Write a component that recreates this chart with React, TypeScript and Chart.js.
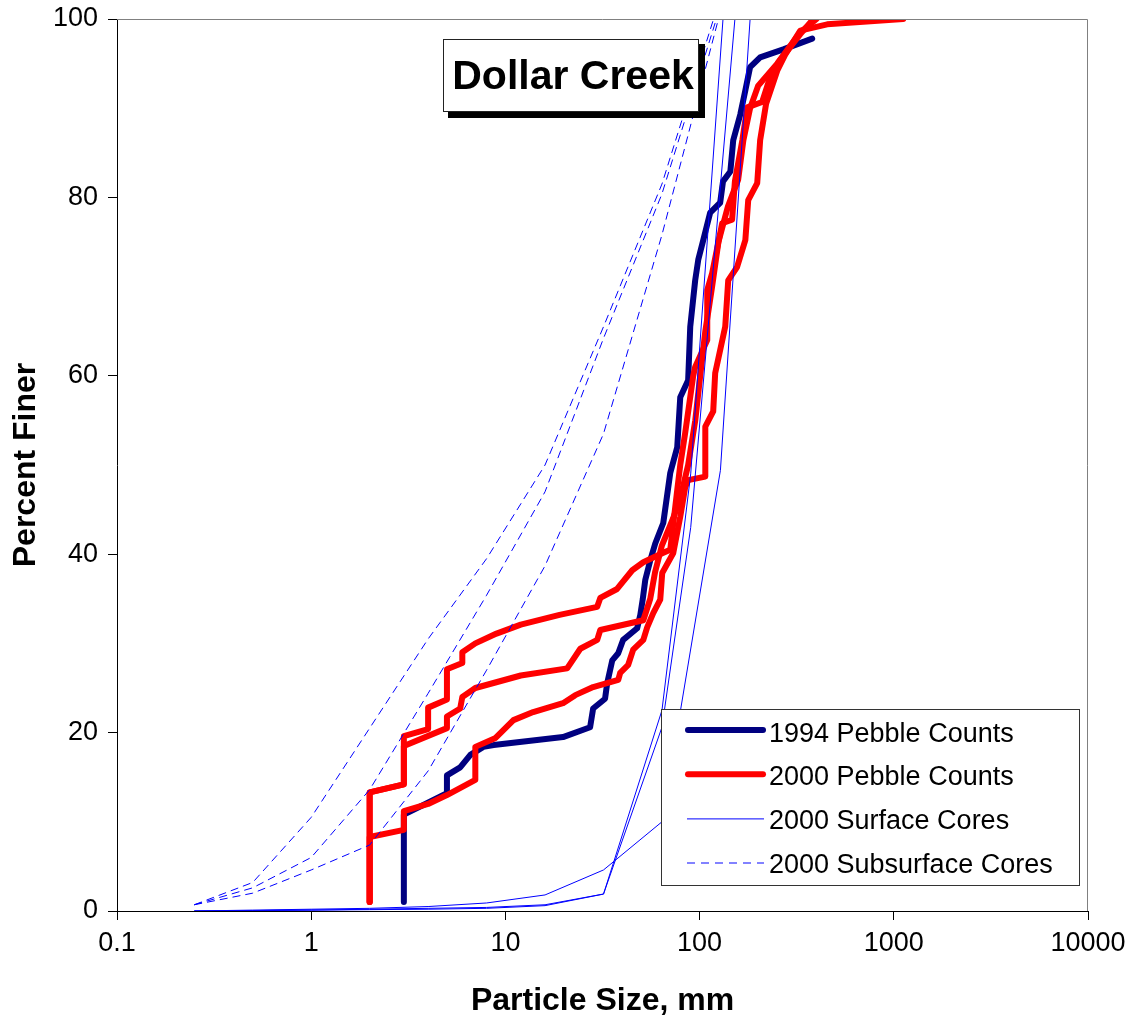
import React, { useEffect, useRef } from 'react';
import { Chart, registerables } from 'chart.js';

Chart.register(...registerables);

// ---------- DATA ----------
const chartTitle = 'Dollar Creek';
const xAxisTitle = 'Particle Size, mm';
const yAxisTitle = 'Percent Finer';
const xTickValues = [0.1, 1, 10, 100, 1000, 10000];
const xTickLabels = ['0.1', '1', '10', '100', '1000', '10000'];
const yTickValues = [0, 20, 40, 60, 80, 100];
const legendLabels = ['1994 Pebble Counts', '2000 Pebble Counts', '2000 Surface Cores', '2000 Subsurface Cores'];

// [size mm, percent finer]
const pebble1994: number[][] = [
  [3, 1], [3, 10.8], [5, 13.2], [5, 15.2], [5.85, 16.1], [6.6, 17.5], [7.7, 18.4], [8.7, 18.6],
  [19.8, 19.5], [27.3, 20.6], [28.3, 22.7], [32.6, 23.8], [33.4, 25.5], [35.5, 28.1], [38.1, 28.9],
  [40.4, 30.4], [47.7, 31.7], [49.5, 33.2], [51, 35], [52.5, 37.1], [55.7, 39.3], [59.1, 41.2],
  [65, 43.5], [70.6, 49.1], [76.7, 52], [79.5, 57.6], [87.3, 59.5], [89.5, 65.5], [94.9, 70.7],
  [98.4, 73], [104.4, 75.2], [113.4, 78.3], [127.6, 79.4], [132, 81.8], [144, 82.9], [149, 86.4],
  [162, 89.3], [172, 92], [182, 94.6], [205, 95.7], [270, 96.6], [380, 97.8],
];

const pebble2000a: number[][] = [
  [2, 1], [2, 13.3], [3, 14.2], [3, 19.6], [4, 20.4], [4, 22.8], [5, 23.7], [5, 27.1], [6, 27.8],
  [6, 29], [7, 30], [9, 31.1], [12, 32.1], [19, 33.2], [29.7, 34.1], [30.8, 35.1], [37.6, 36.1],
  [45, 38.2], [51.3, 39.1], [64.2, 40.1], [70.6, 40.5], [76.7, 47.2], [79.5, 50], [84.3, 53.6],
  [92.7, 60], [94.9, 61], [109.5, 64], [109.5, 69.6], [116, 71.5], [130.7, 77.1], [147, 77.5],
  [152, 81.8], [166, 86.4], [176, 90.1], [210, 90.7], [231, 93.5], [260, 95.4], [330, 98.3], [385, 100],
];

const pebble2000b: number[][] = [
  [2, 1], [2, 13.3], [3, 14.2], [3, 18.5], [5, 20.5], [5, 21.8], [5.85, 22.7], [6, 24], [7, 25],
  [12, 26.4], [20.8, 27.2], [24.3, 29.4], [29.7, 30.4], [30.8, 31.5], [51.3, 32.6], [55.7, 35],
  [59, 38], [64, 41], [73, 44], [80, 46.5], [87.3, 50], [95, 55], [100.7, 60], [107, 65], [116, 70],
  [125, 75], [140, 79], [158, 82], [168, 86.4], [182, 90], [200, 92.5], [251, 95], [330, 98.5], [400, 100],
];

const pebble2000c: number[][] = [
  [2, 1], [2, 8.3], [3, 9.1], [3, 11.2], [4, 12], [5, 13], [7, 14.7], [7, 18.4], [8.9, 19.4],
  [11, 21.4], [13.9, 22.3], [19.8, 23.3], [22.9, 24.2], [28.3, 25.1], [38.1, 25.9], [39, 26.7],
  [42.9, 27.6], [45.5, 29.3], [51.3, 30.4], [53.7, 31.8], [57.7, 33.4], [62.7, 34.9], [64.2, 37.9],
  [73.1, 40.1], [79.5, 44.2], [84.3, 47.5], [87.3, 48.3], [107, 48.7], [107, 54.3], [117.5, 56],
  [120.3, 60.3], [135.5, 65.5], [140.4, 70.7], [156, 72.2], [172, 75.2], [178, 79.7], [198, 81.6],
  [205, 86.4], [220, 90.5], [251, 94.2], [276, 96], [330, 98.7], [454, 99.4], [1117, 100],
];

const surface1: number[][] = [
  [0.25, 0], [0.5, 0.1], [1, 0.2], [2, 0.3], [4, 0.5], [8, 0.9], [16, 1.8], [32, 4.6], [64, 10], [128, 49.4], [182, 100],
];
const surface2: number[][] = [
  [0.25, 0], [0.5, 0.05], [1, 0.1], [2, 0.15], [4, 0.2], [8, 0.3], [16, 0.6], [32, 1.9], [64, 22.5], [90, 49], [132, 100],
];
const surface3: number[][] = [
  [0.25, 0], [0.5, 0.05], [1, 0.1], [2, 0.2], [4, 0.3], [8, 0.4], [16, 0.7], [32, 1.9], [64, 20.6], [90, 43], [152, 100],
];

const subsurface1: number[][] = [
  [0.25, 0.7], [0.5, 3.2], [1, 10.5], [2, 20.5], [4, 30.5], [8, 39.5], [16, 50], [32, 65.5], [64, 81.5], [118, 100],
];
const subsurface2: number[][] = [
  [0.25, 0.7], [0.5, 2.6], [1, 6], [2, 13.6], [4, 24.4], [8, 35.4], [16, 47], [32, 64.2], [64, 80.4], [122, 100],
];
const subsurface3: number[][] = [
  [0.25, 0.7], [0.5, 2], [1, 4.6], [2, 7.4], [4, 15.7], [8, 27], [16, 38.7], [32, 53.5], [64, 75.8], [125, 100],
];

// ---------- STYLE ----------
const FONT = '"Liberation Sans", Arial, Helvetica, sans-serif';
const NAVY = '#000080';
const RED = '#FF0000';
const BLUE = '#0000FF';
const DASH = [8, 5];

const toPts = (arr: number[][]) => arr.map(([x, y]) => ({ x, y }));

const lineDs = (arr: number[][], color: string, width: number, dash: number[] = []) => ({
  data: toPts(arr),
  borderColor: color,
  backgroundColor: color,
  borderWidth: width,
  borderDash: dash,
  pointRadius: 0,
  pointHoverRadius: 0,
  showLine: true,
  fill: false,
  tension: 0,
  borderCapStyle: width > 2 ? 'round' : 'butt',
  borderJoinStyle: width > 2 ? 'round' : 'miter',
});

const legendStyles = [
  { color: NAVY, width: 6, dash: [] as number[], cap: 'round' },
  { color: RED, width: 6, dash: [] as number[], cap: 'round' },
  { color: BLUE, width: 1, dash: [] as number[], cap: 'butt' },
  { color: '#5a5aff', width: 1.5, dash: [8, 6], cap: 'butt' },
];

const decorPlugin = {
  id: 'decor',
  afterDatasetsDraw(chart: any) {
    const { ctx, chartArea: a } = chart;
    ctx.save();
    // gray plot-area border (top & right)
    ctx.strokeStyle = '#808080';
    ctx.lineWidth = 1;
    ctx.setLineDash([]);
    ctx.beginPath();
    ctx.moveTo(a.left, a.top + 0.5);
    ctx.lineTo(a.right - 0.5, a.top + 0.5);
    ctx.lineTo(a.right - 0.5, a.bottom);
    ctx.stroke();

    // title box with shadow
    const bx = a.left + 326;
    const by = a.top + 20;
    const bw = 256;
    const bh = 73;
    ctx.fillStyle = '#000';
    ctx.fillRect(bx + 5, by + 5, bw + 1, bh + 1);
    ctx.fillStyle = '#fff';
    ctx.fillRect(bx, by, bw, bh);
    ctx.strokeStyle = '#222';
    ctx.lineWidth = 1;
    ctx.strokeRect(bx + 0.5, by + 0.5, bw - 1, bh - 1);
    ctx.fillStyle = '#000';
    ctx.font = `bold 41px ${FONT}`;
    ctx.textAlign = 'center';
    ctx.textBaseline = 'alphabetic';
    ctx.fillText(chartTitle, bx + bw / 2 + 2, by + 49.5);

    // legend
    const lx = a.left + 544;
    const ly = a.top + 690;
    const lw = 419;
    const lh = 177;
    ctx.fillStyle = '#fff';
    ctx.fillRect(lx, ly, lw, lh);
    ctx.strokeStyle = '#333';
    ctx.strokeRect(lx + 0.5, ly + 0.5, lw - 1, lh - 1);
    ctx.font = `27px ${FONT}`;
    ctx.textAlign = 'left';
    ctx.textBaseline = 'alphabetic';
    legendLabels.forEach((label, i) => {
      const st = legendStyles[i];
      const rowY = ly + 21 + i * 44.2;
      ctx.strokeStyle = st.color;
      ctx.lineWidth = st.width;
      ctx.lineCap = st.cap;
      ctx.setLineDash(st.dash);
      ctx.beginPath();
      if (st.width > 2) {
        ctx.moveTo(lx + 27, rowY);
        ctx.lineTo(lx + 102, rowY);
      } else {
        ctx.moveTo(lx + 26, rowY + 0.5);
        ctx.lineTo(lx + 103, rowY + 0.5);
      }
      ctx.stroke();
      ctx.setLineDash([]);
      ctx.fillStyle = '#000';
      ctx.fillText(label, lx + 108, ly + 32.5 + i * 43.8);
    });
    ctx.restore();
  },
};

export default function App() {
  const canvasRef = useRef<HTMLCanvasElement | null>(null);

  useEffect(() => {
    document.body.style.margin = '0';
    const canvas = canvasRef.current;
    if (!canvas) return;

    const datasets: any[] = [
      lineDs(subsurface1, BLUE, 1, DASH),
      lineDs(subsurface2, BLUE, 1, DASH),
      lineDs(subsurface3, BLUE, 1, DASH),
      lineDs(surface1, BLUE, 1),
      lineDs(surface2, BLUE, 1),
      lineDs(surface3, BLUE, 1),
      lineDs(pebble2000a, RED, 6),
      lineDs(pebble2000b, RED, 6),
      lineDs(pebble2000c, RED, 6),
      lineDs(pebble1994, NAVY, 6),
    ];

    const tickFont = { family: FONT, size: 27 };
    const titleFont = { family: FONT, size: 32, weight: 'bold' as const, lineHeight: 1.1 };

    const chart = new Chart(canvas, {
      type: 'scatter',
      data: { datasets },
      plugins: [decorPlugin],
      options: {
        animation: false,
        responsive: false,
        devicePixelRatio: 1,
        events: [],
        layout: { padding: { left: 0, top: 19, right: 44, bottom: 0 } },
        plugins: {
          legend: { display: false },
          tooltip: { enabled: false },
          title: { display: false },
        },
        scales: {
          x: {
            type: 'logarithmic',
            position: 'bottom',
            min: 0.1,
            max: 10000,
            afterBuildTicks: (s: any) => {
              s.ticks = xTickValues.map((v) => ({ value: v }));
            },
            afterFit: (s: any) => {
              s.height = 108;
              s.paddingLeft = 0;
              s.paddingRight = 0;
              s.paddingTop = 0;
              s.paddingBottom = 0;
            },
            ticks: {
              autoSkip: false,
              maxRotation: 0,
              minRotation: 0,
              padding: 7,
              color: '#000',
              font: tickFont,
              callback: (_v: any, i: number) => xTickLabels[i],
            },
            grid: {
              drawOnChartArea: false,
              drawTicks: true,
              tickLength: 9,
              color: '#000',
              tickColor: '#000',
              lineWidth: 1,
            },
            border: { display: true, color: '#000', width: 1 },
            title: {
              display: true,
              text: xAxisTitle,
              color: '#000',
              font: titleFont,
              padding: { top: 0, bottom: 0 },
            },
          },
          y: {
            type: 'linear',
            position: 'left',
            min: 0,
            max: 100,
            afterBuildTicks: (s: any) => {
              s.ticks = yTickValues.map((v) => ({ value: v }));
            },
            afterFit: (s: any) => {
              s.width = 117;
              s.paddingLeft = 0;
              s.paddingRight = 0;
              s.paddingTop = 0;
              s.paddingBottom = 0;
            },
            ticks: {
              padding: 10,
              color: '#000',
              font: tickFont,
              callback: (v: any) => String(v),
            },
            grid: {
              drawOnChartArea: false,
              drawTicks: true,
              tickLength: 9,
              color: '#000',
              tickColor: '#000',
              lineWidth: 1,
            },
            border: { display: true, color: '#000', width: 1 },
            title: {
              display: true,
              text: yAxisTitle,
              color: '#000',
              font: titleFont,
              padding: { top: 9, bottom: 0 },
            },
          },
        },
      } as any,
    });

    return () => chart.destroy();
  }, []);

  return (
    <div style={{ width: 1132, height: 1019, background: '#fff' }}>
      <canvas ref={canvasRef} width={1132} height={1019} style={{ display: 'block' }} />
    </div>
  );
}
